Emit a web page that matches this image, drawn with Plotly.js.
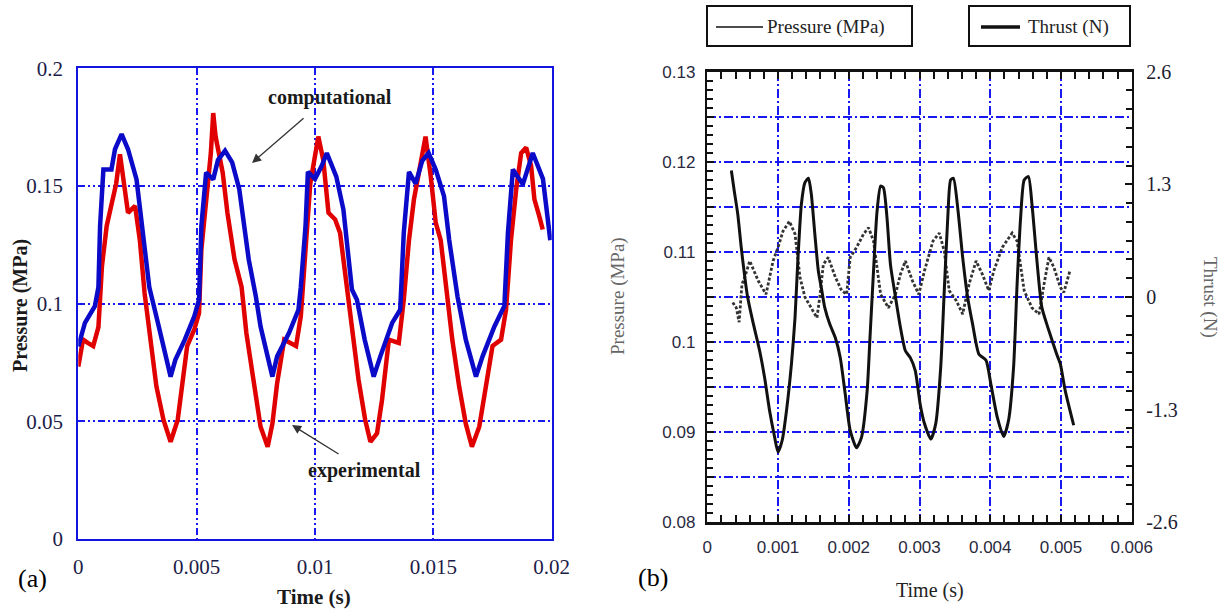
<!DOCTYPE html>
<html>
<head>
<meta charset="utf-8">
<script src="https://cdn.plot.ly/plotly-3.0.1.min.js"></script>
<style>
html,body{margin:0;padding:0;background:#fff;}
#chart{width:1225px;height:609px;}
</style>
</head>
<body>
<div id="chart"></div>
<script>
// ---------- Panel (a): pressure vs time ----------
const timeComp = [0, 0.00028, 0.0007, 0.00085, 0.00092, 0.00106, 0.0014, 0.00155, 0.00183, 0.0021, 0.00246, 0.0028, 0.003, 0.0034, 0.0039, 0.0041, 0.0045, 0.0049, 0.0051, 0.0052, 0.0054, 0.0057, 0.0059, 0.0062, 0.0065, 0.0068, 0.0072, 0.0075, 0.0077, 0.0082, 0.0084, 0.0089, 0.0093, 0.0094, 0.0096, 0.0097, 0.01, 0.01028, 0.0105, 0.0109, 0.0112, 0.01156, 0.01177, 0.0121, 0.01248, 0.01276, 0.01326, 0.0136, 0.01375, 0.01397, 0.01425, 0.01453, 0.0148, 0.0151, 0.01545, 0.01567, 0.01602, 0.01637, 0.0168, 0.01708, 0.01758, 0.018, 0.01815, 0.01836, 0.01878, 0.0192, 0.01963, 0.01994];
const presComp = [0.0818, 0.0918, 0.0989, 0.107, 0.133, 0.157, 0.157, 0.1656, 0.172, 0.1656, 0.1528, 0.1259, 0.107, 0.0903, 0.069, 0.0761, 0.0847, 0.0946, 0.1017, 0.133, 0.1557, 0.1528, 0.161, 0.165, 0.16, 0.1486, 0.1188, 0.1031, 0.0903, 0.069, 0.0776, 0.0875, 0.0974, 0.107, 0.133, 0.156, 0.153, 0.1585, 0.164, 0.154, 0.140, 0.106, 0.1017, 0.0847, 0.069, 0.0776, 0.0918, 0.0974, 0.130, 0.156, 0.151, 0.1607, 0.164, 0.157, 0.1457, 0.127, 0.1031, 0.0847, 0.069, 0.0776, 0.0903, 0.099, 0.130, 0.157, 0.1507, 0.164, 0.153, 0.127];

const timeExp = [0, 0.0002, 0.0004, 0.00063, 0.00085, 0.001, 0.0012, 0.0014, 0.0016, 0.00176, 0.002, 0.0021, 0.0024, 0.0026, 0.0028, 0.003, 0.0033, 0.0036, 0.0039, 0.0042, 0.0044, 0.0046, 0.0049, 0.0051, 0.0052, 0.0054, 0.0056, 0.0057, 0.0058, 0.0061, 0.0063, 0.0066, 0.0069, 0.0071, 0.0074, 0.0077, 0.008, 0.0082, 0.0084, 0.0087, 0.0092, 0.0094, 0.0096, 0.0098, 0.01014, 0.01035, 0.01057, 0.01085, 0.01106, 0.01127, 0.01156, 0.01184, 0.01212, 0.01234, 0.01262, 0.01283, 0.01312, 0.01354, 0.01375, 0.01397, 0.01418, 0.01439, 0.01467, 0.01489, 0.0151, 0.01531, 0.01552, 0.0158, 0.01609, 0.01637, 0.01663, 0.01694, 0.01722, 0.0175, 0.01786, 0.01807, 0.01828, 0.0185, 0.01871, 0.01892, 0.01913, 0.01927, 0.01948, 0.01962];
const presExp = [0.0733, 0.0847, 0.0833, 0.082, 0.090, 0.116, 0.133, 0.1415, 0.151, 0.1635, 0.147, 0.1386, 0.1415, 0.127, 0.1045, 0.0875, 0.0648, 0.0506, 0.0413, 0.0506, 0.0648, 0.082, 0.089, 0.096, 0.123, 0.1443, 0.164, 0.181, 0.171, 0.1557, 0.1386, 0.1188, 0.107, 0.0875, 0.0662, 0.0477, 0.0392, 0.049, 0.0662, 0.0847, 0.082, 0.0946, 0.123, 0.151, 0.171, 0.161, 0.1386, 0.1358, 0.130, 0.113, 0.0875, 0.0676, 0.0506, 0.0413, 0.0449, 0.059, 0.0847, 0.0833, 0.1017, 0.127, 0.1443, 0.1557, 0.171, 0.154, 0.1344, 0.127, 0.107, 0.0847, 0.0648, 0.049, 0.0392, 0.0477, 0.0648, 0.082, 0.0847, 0.0974, 0.127, 0.1486, 0.164, 0.1663, 0.1585, 0.1443, 0.137, 0.1315];

// ---------- Panel (b): pressure and thrust vs time ----------
const timePres = [0.00036, 0.00041, 0.00045, 0.00049, 0.00053, 0.0006, 0.00072, 0.00083, 0.00093, 0.001, 0.00107, 0.00116, 0.00124, 0.00131, 0.00138, 0.00147, 0.00155, 0.00159, 0.00164, 0.00171, 0.00181, 0.0019, 0.00197, 0.00202, 0.00211, 0.00221, 0.00228, 0.00235, 0.00245, 0.00256, 0.00266, 0.00273, 0.0028, 0.0029, 0.00299, 0.00307, 0.00319, 0.00328, 0.00335, 0.00342, 0.00352, 0.00361, 0.0037, 0.0038, 0.00389, 0.00398, 0.00405, 0.00417, 0.00431, 0.00438, 0.00448, 0.00459, 0.00469, 0.00476, 0.00483, 0.0049, 0.00499, 0.00504, 0.00513];
const presMPa = [0.1044, 0.1038, 0.1022, 0.1064, 0.1072, 0.109, 0.1068, 0.1053, 0.109, 0.1105, 0.1123, 0.1134, 0.112, 0.1072, 0.105, 0.1038, 0.1027, 0.105, 0.1086, 0.1094, 0.1072, 0.1057, 0.1053, 0.1094, 0.1105, 0.112, 0.1127, 0.1112, 0.1053, 0.1038, 0.1053, 0.1075, 0.109, 0.1068, 0.1053, 0.1079, 0.1112, 0.1121, 0.1101, 0.1057, 0.1046, 0.1031, 0.1064, 0.109, 0.1075, 0.1057, 0.1079, 0.1105, 0.1121, 0.1112, 0.1057, 0.1038, 0.1031, 0.1064, 0.1094, 0.1083, 0.1061, 0.1055, 0.108];

const timeThrust = [0.00034, 0.00038, 0.00043, 0.00048, 0.00053, 0.00057, 0.00064, 0.00074, 0.00081, 0.00088, 0.00095, 0.001, 0.00106, 0.00112, 0.00119, 0.00124, 0.00128, 0.00133, 0.00138, 0.00143, 0.00147, 0.00152, 0.00157, 0.00162, 0.00166, 0.00173, 0.00181, 0.00188, 0.00195, 0.00202, 0.00211, 0.00218, 0.00226, 0.0023, 0.00235, 0.0024, 0.00245, 0.00249, 0.00254, 0.00259, 0.00266, 0.00273, 0.0028, 0.00287, 0.00294, 0.00301, 0.00307, 0.00316, 0.00323, 0.0033, 0.00335, 0.0034, 0.00344, 0.00348, 0.00354, 0.00361, 0.00368, 0.00375, 0.00384, 0.00394, 0.00401, 0.0041, 0.00419, 0.00426, 0.00433, 0.00438, 0.00443, 0.00448, 0.00454, 0.00459, 0.00466, 0.00473, 0.00483, 0.00494, 0.00499, 0.00506, 0.00518];
const thrustN = [1.46, 1.23, 0.96, 0.57, 0.23, 0, -0.27, -0.62, -0.93, -1.31, -1.61, -1.79, -1.65, -1.31, -0.77, -0.24, 0.42, 1.07, 1.32, 1.37, 1.19, 0.73, 0.30, 0.07, -0.12, -0.31, -0.47, -0.70, -1.12, -1.54, -1.74, -1.62, -1.08, -0.47, 0.30, 0.99, 1.28, 1.26, 0.92, 0.37, 0, -0.35, -0.62, -0.70, -0.85, -1.24, -1.46, -1.64, -1.46, -0.81, 0.07, 0.92, 1.35, 1.37, 1.03, 0.46, 0, -0.31, -0.66, -0.73, -1.01, -1.39, -1.61, -1.42, -0.81, 0.15, 0.92, 1.35, 1.39, 1.07, 0.42, -0.12, -0.39, -0.66, -0.77, -1.08, -1.48];

// tick labels for panel (b)
const presTickVals = [0.08, 0.085, 0.09, 0.095, 0.1, 0.105, 0.11, 0.115, 0.12, 0.125, 0.13];
const presTickText = ['0.08', '', '0.09', '', '0.1', '', '0.11', '', '0.12', '', '0.13'];
const thrustTickVals = [-2.6, -1.3, 0, 1.3, 2.6];
const thrustTickText = ['-2.6', '-1.3', '0', '1.3', '2.6'];

const W = 1225, H = 609;
const px = v => v / W;
const py = v => 1 - v / H;
const SERIF = 'Liberation Serif, Times New Roman, serif';
const SANS = 'Liberation Sans, Arial, sans-serif';
const BLUE_AX = 'rgb(20,20,225)';
const GRID_BLUE = '#1818f0';

const traces = [
  {x: timeExp, y: presExp, xaxis: 'x', yaxis: 'y', mode: 'lines', name: 'experimental',
   line: {color: 'rgb(225,0,0)', width: 4.5}, showlegend: false},
  {x: timeComp, y: presComp, xaxis: 'x', yaxis: 'y', mode: 'lines', name: 'computational',
   line: {color: 'rgb(10,10,200)', width: 4.5}, showlegend: false},
  {x: timePres, y: presMPa, xaxis: 'x2', yaxis: 'y2', mode: 'lines', name: 'Pressure (MPa)',
   line: {color: '#333', width: 2.8, dash: '3px,2px'}, showlegend: false},
  {x: timeThrust, y: thrustN, xaxis: 'x2', yaxis: 'y3', mode: 'lines', name: 'Thrust (N)',
   line: {color: '#111', width: 3, shape: 'spline', smoothing: 0.6}, showlegend: false}
];

const layout = {
  width: W, height: H,
  margin: {l: 0, r: 0, t: 0, b: 0},
  paper_bgcolor: '#fff', plot_bgcolor: '#fff',
  showlegend: false,
  xaxis: {
    domain: [px(78.3), px(551.7)], anchor: 'y',
    range: [0, 0.02], dtick: 0.005, tick0: 0,
    showline: true, mirror: true, linecolor: BLUE_AX, linewidth: 2,
    showgrid: true, gridcolor: GRID_BLUE, gridwidth: 2, griddash: '7px,3px,2px,3px,2px,3px',
    zeroline: false, ticks: '', ticklabelstandoff: 8,
    tickfont: {family: SERIF, size: 21, color: '#1c1c48'}
  },
  yaxis: {
    domain: [py(539), py(68.3)], anchor: 'x',
    range: [0, 0.2], dtick: 0.05, tick0: 0,
    showline: true, mirror: true, linecolor: BLUE_AX, linewidth: 2,
    showgrid: true, gridcolor: GRID_BLUE, gridwidth: 2, griddash: '7px,3px,2px,3px,2px,3px',
    zeroline: false, ticks: '', ticklabelstandoff: 9,
    tickfont: {family: SERIF, size: 21, color: '#1c1c48'}
  },
  xaxis2: {
    domain: [px(707.3), px(1131.7)], anchor: 'y2',
    range: [0, 0.006], dtick: 0.001, tick0: 0,
    showline: true, mirror: 'allticks', linecolor: '#111', linewidth: 2.5,
    showgrid: true, gridcolor: GRID_BLUE, gridwidth: 2, griddash: '9px,3px,2px,3px',
    zeroline: false, ticks: 'inside', ticklen: 7, tickwidth: 2, tickcolor: '#111',
    ticklabelstandoff: 8,
    minor: {dtick: 0.0002, tick0: 0, ticks: 'inside', ticklen: 6, tickwidth: 2, tickcolor: '#111', showgrid: false},
    tickfont: {family: SANS, size: 17, color: '#2a2a3e'}
  },
  yaxis2: {
    domain: [py(522.3), py(71.7)], anchor: 'x2',
    range: [0.08, 0.13], tickmode: 'array', tickvals: presTickVals, ticktext: presTickText,
    showline: true, mirror: true, linecolor: '#111', linewidth: 2.5,
    showgrid: true, gridcolor: GRID_BLUE, gridwidth: 2, griddash: '9px,3px,2px,3px',
    zeroline: false, ticks: 'inside', ticklen: 7, tickwidth: 2, tickcolor: '#111',
    ticklabelstandoff: 6,
    minor: {dtick: 0.001, tick0: 0.08, ticks: 'inside', ticklen: 6, tickwidth: 2, tickcolor: '#111', showgrid: false},
    tickfont: {family: SANS, size: 17, color: '#2a2a3e'}
  },
  yaxis3: {
    domain: [py(522.3), py(71.7)], anchor: 'x2', overlaying: 'y2', side: 'right',
    range: [-2.6, 2.6], tickmode: 'array', tickvals: thrustTickVals, ticktext: thrustTickText,
    showline: true, linecolor: '#111', linewidth: 2.5, showgrid: false, zeroline: false,
    ticks: 'inside', ticklen: 7, tickwidth: 2, tickcolor: '#111', ticklabelstandoff: 8,
    minor: {dtick: 1.3 / 6, tick0: -2.6, ticks: 'inside', ticklen: 6, tickwidth: 2, tickcolor: '#111', showgrid: false},
    tickfont: {family: SERIF, size: 20, color: '#1c1c30'}
  },
  shapes: [
    {type: 'rect', xref: 'paper', yref: 'paper', x0: px(707), x1: px(912), y0: py(46), y1: py(6),
     line: {color: '#111', width: 2}, fillcolor: 'rgba(0,0,0,0)'},
    {type: 'line', xref: 'paper', yref: 'paper', x0: px(716), x1: px(763), y0: py(27), y1: py(27),
     line: {color: '#111', width: 1.3}},
    {type: 'rect', xref: 'paper', yref: 'paper', x0: px(969), x1: px(1130), y0: py(46), y1: py(6),
     line: {color: '#111', width: 2}, fillcolor: 'rgba(0,0,0,0)'},
    {type: 'line', xref: 'paper', yref: 'paper', x0: px(981), x1: px(1020), y0: py(27), y1: py(27),
     line: {color: '#111', width: 3.5}}
  ],
  annotations: [
    {text: '(a)', xref: 'paper', yref: 'paper', x: px(32), y: py(578), showarrow: false,
     xanchor: 'center', yanchor: 'middle', font: {family: SERIF, size: 26, color: '#000'}},
    {text: '(b)', xref: 'paper', yref: 'paper', x: px(653), y: py(577), showarrow: false,
     xanchor: 'center', yanchor: 'middle', font: {family: SERIF, size: 26, color: '#000'}},
    {text: '<b>Pressure (MPa)</b>', xref: 'paper', yref: 'paper', x: px(20), y: py(306), textangle: -90,
     showarrow: false, xanchor: 'center', yanchor: 'middle', font: {family: SERIF, size: 20, color: '#1a1a1a'}},
    {text: '<b>Time (s)</b>', xref: 'paper', yref: 'paper', x: px(314), y: py(597),
     showarrow: false, xanchor: 'center', yanchor: 'middle', font: {family: SERIF, size: 21, color: '#1a1a1a'}},
    {text: 'Pressure (MPa)', xref: 'paper', yref: 'paper', x: px(618), y: py(296), textangle: -90,
     showarrow: false, xanchor: 'center', yanchor: 'middle', font: {family: SERIF, size: 19, color: '#666'}},
    {text: 'Thrust (N)', xref: 'paper', yref: 'paper', x: px(1210), y: py(297), textangle: 90,
     showarrow: false, xanchor: 'center', yanchor: 'middle', font: {family: SERIF, size: 19, color: '#666'}},
    {text: 'Time (s)', xref: 'paper', yref: 'paper', x: px(930), y: py(590),
     showarrow: false, xanchor: 'center', yanchor: 'middle', font: {family: SERIF, size: 20, color: '#222'}},
    {text: 'Pressure (MPa)', xref: 'paper', yref: 'paper', x: px(765), y: py(27),
     showarrow: false, xanchor: 'left', yanchor: 'middle', font: {family: SERIF, size: 19, color: '#222'}},
    {text: 'Thrust (N)', xref: 'paper', yref: 'paper', x: px(1026), y: py(27),
     showarrow: false, xanchor: 'left', yanchor: 'middle', font: {family: SERIF, size: 19, color: '#222'}},
    {text: '<b>computational</b>', xref: 'x', yref: 'y', x: 0.01063, y: 0.1874,
     showarrow: false, xanchor: 'center', yanchor: 'middle', font: {family: SERIF, size: 20, color: '#1a1a1a'}},
    {text: '', xref: 'x', yref: 'y', axref: 'x', ayref: 'y', x: 0.00734, y: 0.1598, ax: 0.00958, ay: 0.1793,
     showarrow: true, arrowhead: 2, arrowsize: 1.4, arrowwidth: 1.3, arrowcolor: '#333'},
    {text: '<b>experimental</b>', xref: 'x', yref: 'y', x: 0.01207, y: 0.0293,
     showarrow: false, xanchor: 'center', yanchor: 'middle', font: {family: SERIF, size: 20, color: '#1a1a1a'}},
    {text: '', xref: 'x', yref: 'y', axref: 'x', ayref: 'y', x: 0.00903, y: 0.0484, ax: 0.01106, ay: 0.0357,
     showarrow: true, arrowhead: 2, arrowsize: 1.4, arrowwidth: 1.3, arrowcolor: '#333'}
  ]
};

Plotly.newPlot('chart', traces, layout, {staticPlot: true, displayModeBar: false});
</script>
</body>
</html>
